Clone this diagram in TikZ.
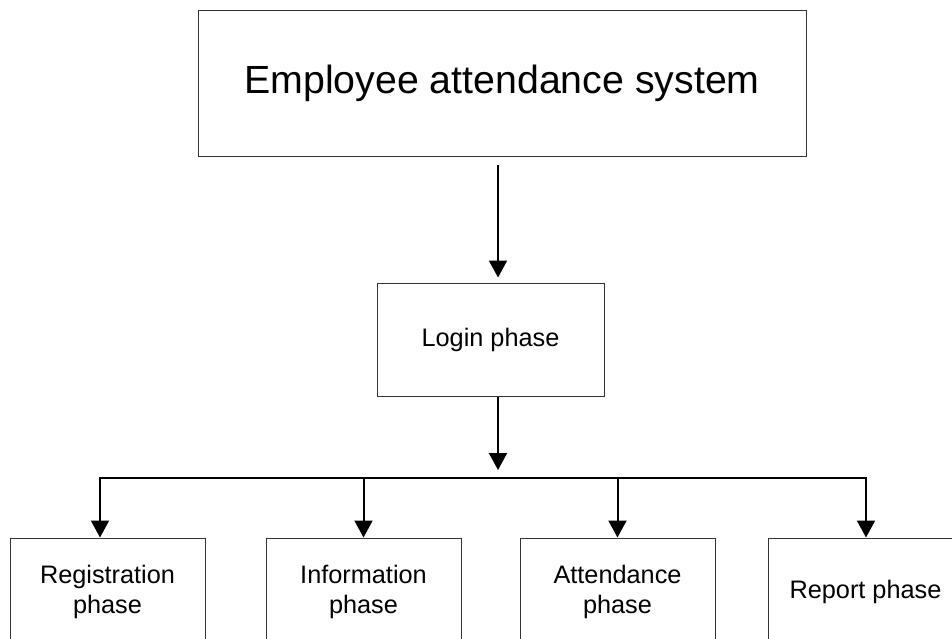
\documentclass[tikz,border=0pt]{standalone}
\usepackage{fontspec}
\setmainfont{Liberation Sans}
\usetikzlibrary{arrows.meta,positioning}
\tikzset{box/.style={draw=black!80,line width=1pt,inner sep=0pt,align=center,
    font=\fontsize{25.3}{30}\selectfont},
  phasebox/.style={box,minimum width=195pt,minimum height=108pt},
  arr/.style={line width=2pt,-{Triangle[length=17pt,width=18pt]}}}

\begin{document}
\begin{tikzpicture}[x=1pt,y=1pt]
\useasboundingbox (0,0) rectangle (952,-639);
\node[box,minimum width=608pt,minimum height=146.5pt,font=\fontsize{39.3}{47}\selectfont] (sys) at (502,-83.5) {Employee attendance system};
\node[box,minimum width=227pt,minimum height=113pt] (login) at (490.5,-339.5) {Login phase};
\node[phasebox] (reg) at (107.5,-592) {Registration\\phase};
\node[phasebox] (info) at (363.5,-592) {Information\\phase};
\node[phasebox] (att) at (617.5,-592) {Attendance\\phase};
\node[phasebox] (rep) at (865.5,-592) {Report phase};
\coordinate (bus) at (498,-478);
\draw[arr,shorten <=8pt,shorten >=5pt] ([xshift=-4pt]sys.south) -- ([xshift=7.5pt]login.north);
\draw[arr] ([xshift=7.5pt]login.south) -- ([yshift=8pt]bus);
\foreach \n/\d in {reg/-7.5,info/0,att/0,rep/0.5}
  \draw[arr] (bus) -| ([xshift=\d pt]\n.north);
\end{tikzpicture}
\end{document}
